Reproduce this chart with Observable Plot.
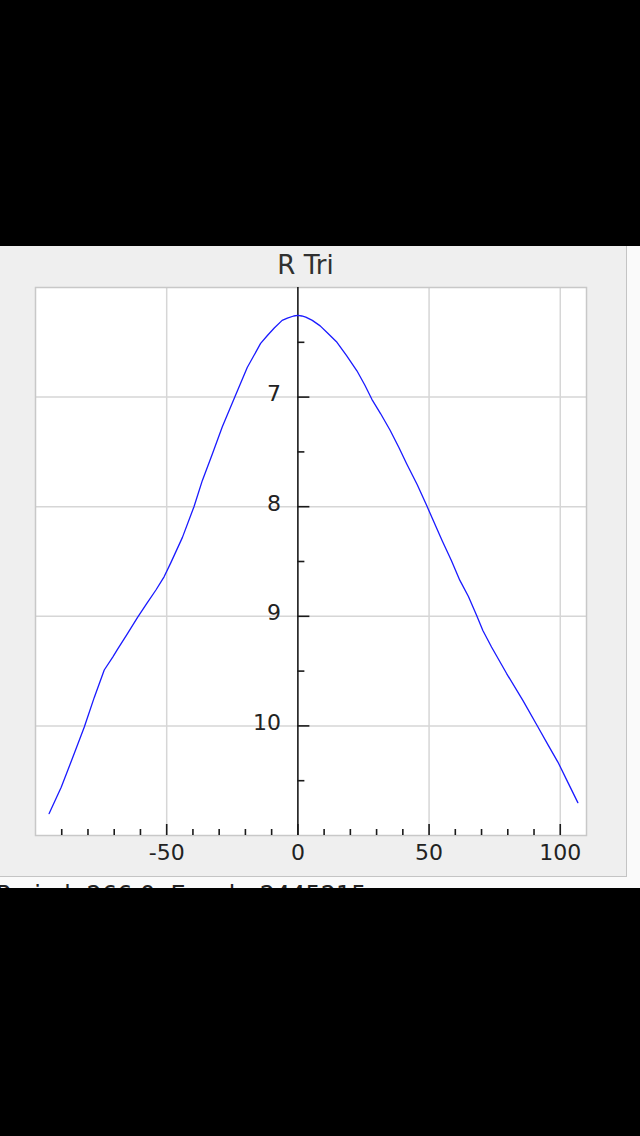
<!DOCTYPE html>
<html>
<head>
<meta charset="utf-8">
<script src="https://cdn.jsdelivr.net/npm/d3@7"></script>
<script src="https://cdn.jsdelivr.net/npm/@observablehq/plot@0.6"></script>
<style>
  html, body { margin: 0; padding: 0; background: #000; width: 640px; height: 1136px; overflow: hidden; }
  #wrap { position: absolute; left: 0; top: 246px; width: 640px; height: 642px; background: #fafafa; overflow: hidden; font-family: "DejaVu Sans", sans-serif; }
  #panel { position: absolute; left: 0; top: 0; width: 627px; height: 631px; background: #efefef; border-right: 1px solid #c4c4c4; border-bottom: 1px solid #c4c4c4; box-sizing: border-box; }
  #title { position: absolute; left: 0; top: 6px; width: 611px; text-align: center; font-size: 26px; line-height: 1; color: #303030; }
  #chart { position: absolute; left: 0; top: 0; }
  #footer { position: absolute; left: -4px; top: 637px; font-size: 24px; line-height: 1; color: #222; white-space: nowrap; }
</style>
</head>
<body>
<div id="wrap">
  <div id="panel">
    <div id="chart"></div>
    <div id="title"></div>
  </div>
  <div id="footer"></div>
</div>
<script>
// ---- data ----
const titleText = "R Tri";
const footerText = "Period: 266.0, Epoch: 2445215";
const phase = [-94.8, -90.2, -85.2, -81.4, -77.6, -73.8, -70.5, -68.7, -65.0, -61.1, -57.5, -54.1, -51.0, -48.4, -44.0, -39.6, -36.4, -32.6, -28.8, -24.4, -19.3, -14.2, -11.7, -9.0, -6.0, -4.0, -1.6, 0.0, 1.5, 3.0, 5.5, 8.5, 11.5, 14.9, 18.5, 22.5, 25.5, 28.2, 31.5, 35.1, 38.5, 41.5, 45.5, 49.1, 55.0, 58.5, 61.7, 65.0, 68.1, 70.5, 73.8, 79.5, 85.8, 91.5, 95.5, 99.1, 103.0, 106.7];
const magnitude = [10.80, 10.56, 10.25, 10.01, 9.74, 9.49, 9.37, 9.30, 9.16, 9.01, 8.88, 8.76, 8.64, 8.51, 8.28, 8.00, 7.76, 7.52, 7.27, 7.02, 6.73, 6.51, 6.44, 6.37, 6.30, 6.28, 6.26, 6.255, 6.26, 6.27, 6.30, 6.35, 6.42, 6.50, 6.62, 6.76, 6.89, 7.02, 7.15, 7.30, 7.46, 7.61, 7.80, 7.99, 8.31, 8.49, 8.67, 8.82, 8.99, 9.13, 9.28, 9.52, 9.77, 10.01, 10.18, 10.33, 10.52, 10.70];
const xDomain = [-100, 110];
const yDomain = [6, 11];
const xMajorTicks = [-50, 0, 50, 100];
const xMinorTicks = [-90, -80, -70, -60, -40, -30, -20, -10, 10, 20, 30, 40, 60, 70, 80, 90];
const xGrid = [-50, 50, 100];
const yMajorTicks = [7, 8, 9, 10];
const yMinorTicks = [6.5, 7.5, 8.5, 9.5, 10.5];

const points = phase.map((p, i) => ({phase: p, mag: magnitude[i]}));

document.getElementById("title").textContent = titleText;
document.getElementById("footer").textContent = footerText;

const axisColor = "#1a1a1a";
const gridColor = "#d6d6d6";

const chart = Plot.plot({
  width: 626,
  height: 630,
  marginLeft: 35,
  marginRight: 40,
  marginTop: 41,
  marginBottom: 41,
  style: {background: "transparent", fontFamily: "DejaVu Sans, sans-serif", fontSize: "22px", color: "#222"},
  x: {domain: xDomain, axis: null},
  y: {domain: yDomain, reverse: true, axis: null},
  marks: [
    Plot.frame({fill: "white", stroke: null}),
    Plot.gridX(xGrid, {stroke: gridColor, strokeOpacity: 1, strokeWidth: 1.5}),
    Plot.gridY(yMajorTicks, {stroke: gridColor, strokeOpacity: 1, strokeWidth: 1.5}),
    Plot.frame({stroke: "#c8c8c8", strokeWidth: 1.5}),
    Plot.ruleX([0], {stroke: axisColor, strokeWidth: 1.6}),
    Plot.ruleY(yMajorTicks, {x1: 0, x2: 0, insetRight: -12, stroke: axisColor, strokeWidth: 1.6}),
    Plot.ruleY(yMinorTicks, {x1: 0, x2: 0, insetRight: -7, stroke: axisColor, strokeWidth: 1.6}),
    Plot.ruleX(xMajorTicks, {y1: yDomain[1], y2: yDomain[1], insetBottom: 11, stroke: axisColor, strokeWidth: 1.6}),
    Plot.ruleX(xMinorTicks, {y1: yDomain[1], y2: yDomain[1], insetBottom: 6, stroke: axisColor, strokeWidth: 1.6}),
    Plot.line(points, {x: "phase", y: "mag", stroke: "#1a1aff", strokeWidth: 1.3}),
    Plot.text(yMajorTicks, {x: 0, y: d => d, text: d => String(d), textAnchor: "end", dx: -17, dy: -3, fill: "#222", fontSize: 22}),
    Plot.text(xMajorTicks, {x: d => d, frameAnchor: "bottom", lineAnchor: "top", dy: 9, text: d => String(d), fill: "#222", fontSize: 22})
  ]
});
document.getElementById("chart").appendChild(chart);
</script>
</body>
</html>
